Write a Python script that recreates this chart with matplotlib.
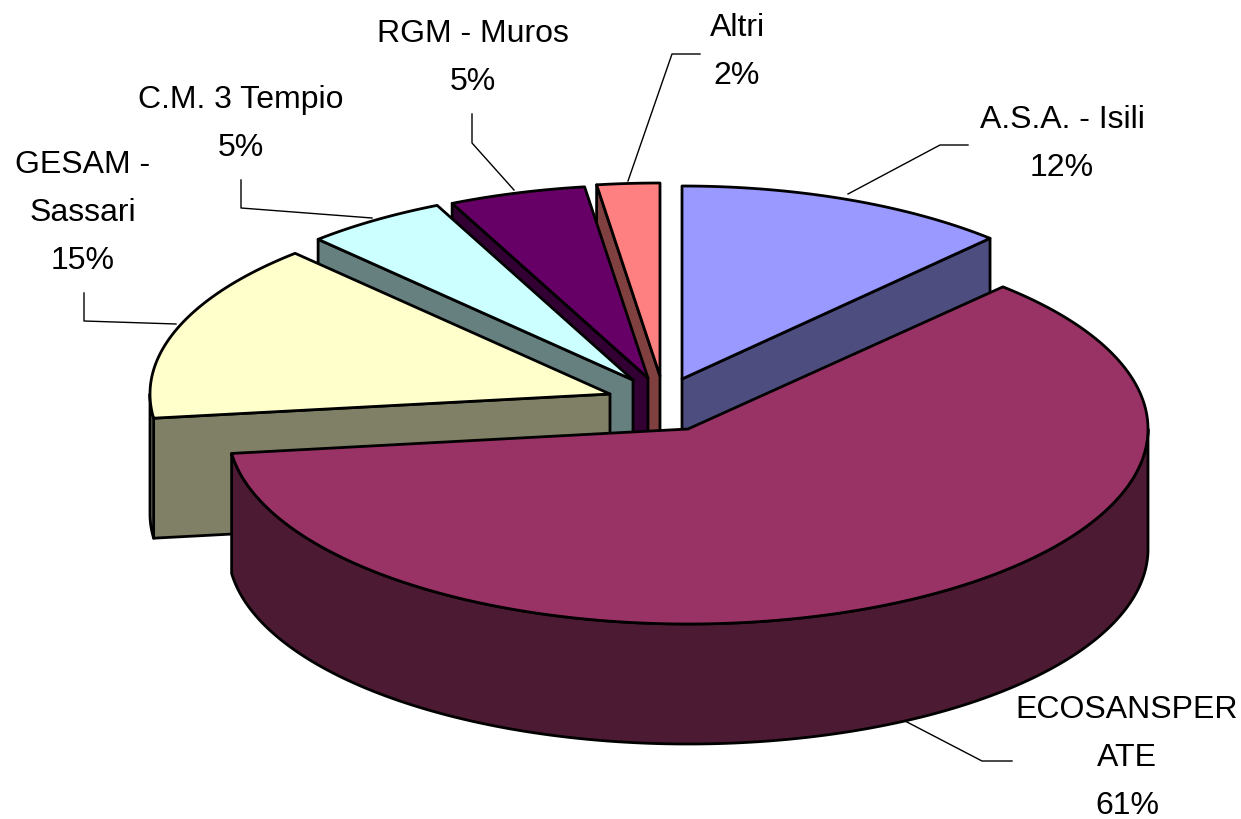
import numpy as np
import matplotlib
matplotlib.use("Agg")
import matplotlib.pyplot as plt
from matplotlib.patches import Polygon

plt.rcParams['font.family'] = ['Liberation Sans', 'DejaVu Sans']

# slices, clockwise from the top
labels = ['A.S.A. - Isili', 'ECOSANSPER\nATE', 'GESAM -\nSassari', 'C.M. 3 Tempio', 'RGM - Muros', 'Altri']
values = [12, 61, 15, 5, 4.8, 2.2]
percent_text = ['12%', '61%', '15%', '5%', '5%', '2%']

top_colors = ['#9999FF', '#993366', '#FFFFCC', '#CCFFFF', '#660066', '#FF8080']
side_colors = ['#4D4D80', '#4D1A33', '#808066', '#668080', '#330033', '#804040']

# where the tip of each exploded slice ends up, in pixels
tips = [(682, 380), (688, 430), (610, 395), (633, 381), (648, 379), (660, 377)]
radii_x = [450, 460, 460, 460, 460, 460]
radii_y = [193, 195, 193, 193, 193, 193]
label_pos = [(1062, 144), (1127, 758), (83, 213), (241, 124), (473, 58), (737, 52)]
leaders = [
    [(848, 195), (940, 146), (968, 146)],
    [(905, 722), (982, 762), (1012, 762)],
    [(176, 325), (84, 322), (84, 294)],
    [(372, 219), (241, 209), (241, 181)],
    [(514, 191), (472, 144), (472, 115)],
    [(628, 182), (672, 55), (700, 55)],
]

depth = 120

fig = plt.figure(figsize=(12.41, 8.2), dpi=100)
ax = fig.add_axes([0, 0, 1, 1])
ax.set_xlim(0, 1241)
ax.set_ylim(820, 0)
ax.axis('off')


def rim(tip, rx, ry, a, b):
    t = np.radians(np.linspace(a, b, max(int(b - a) * 2, 2)))
    return np.column_stack([tip[0] + rx * np.sin(t), tip[1] - ry * np.cos(t)])


def wall(pts, color):
    low = pts[::-1] + [0, depth]
    ax.add_patch(Polygon(np.vstack([pts, low]), closed=True, fc=color, ec='black', lw=2, joinstyle='round'))


# angles for every slice
edges = np.cumsum([0] + values) * 3.6

# back slices first, the big one goes on top
for i in [5, 4, 3, 2, 0, 1]:
    a, b = edges[i], edges[i + 1]
    rx, ry = radii_x[i], radii_y[i]
    tip = np.array(tips[i], dtype=float)
    if np.sin(np.radians(b)) > 0:
        wall(np.vstack([tip, rim(tip, rx, ry, b, b)[0]]), side_colors[i])
    if np.sin(np.radians(a)) < 0:
        wall(np.vstack([tip, rim(tip, rx, ry, a, a)[0]]), side_colors[i])
    lo, hi = max(a, 90), min(b, 270)
    if hi > lo:
        wall(rim(tip, rx, ry, lo, hi), side_colors[i])
    ax.add_patch(Polygon(np.vstack([tip, rim(tip, rx, ry, a, b)]), closed=True,
                         fc=top_colors[i], ec='black', lw=2, joinstyle='round'))

for i in range(len(labels)):
    xs, ys = zip(*leaders[i])
    ax.plot(xs, ys, color='black', lw=1)
    ax.text(label_pos[i][0], label_pos[i][1], labels[i] + '\n' + percent_text[i],
            ha='center', va='center', fontsize=23, linespacing=1.79, color='black')

fig.savefig('out.png', dpi=100)
